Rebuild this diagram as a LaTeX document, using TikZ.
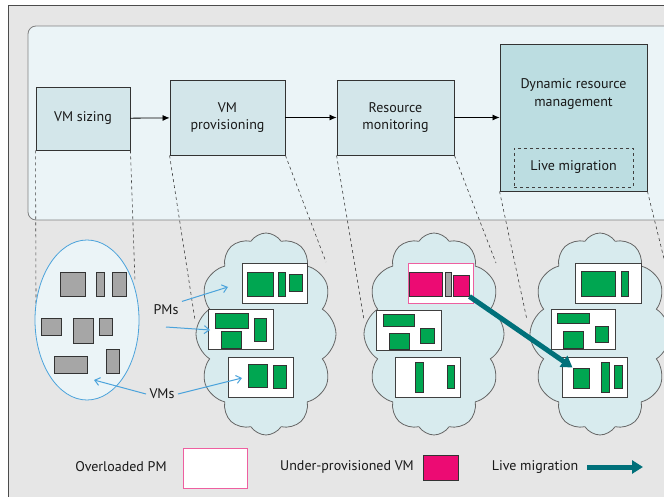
\documentclass[tikz,border=0pt]{standalone}
\usepackage{fontspec}
\setmainfont{PT Sans}
\usetikzlibrary{arrows.meta,shapes.geometric,shapes.symbols}
\definecolor{bggray}{HTML}{E6E6E6}
\definecolor{panel}{HTML}{EBF4F7}
\definecolor{boxfill}{HTML}{D3E6EA}
\definecolor{dynfill}{HTML}{BCDDE1}
\definecolor{cloudfill}{HTML}{D8EBEE}
\definecolor{vmgreen}{HTML}{00A651}
\definecolor{vmpink}{HTML}{EC0B73}
\definecolor{pinkline}{HTML}{EE5FA0}
\definecolor{migteal}{HTML}{00707A}
\definecolor{ptrblue}{HTML}{4BA3DB}
\tikzset{>=stealth}
\tikzset{
  txt/.style={font=\fontsize{14}{17.5}\selectfont, text=black!90, align=center},
  stagebox/.style={txt, draw=black!80, line width=0.9pt, fill=boxfill, inner sep=0pt},
  flow/.style={line width=0.8pt, -{Latex[length=7pt,width=6pt]}},
  guide/.style={dashed, line width=0.6pt, black!75},
  cloudpm/.style={cloud, cloud puffs=12, cloud puff arc=115, draw=black!60, line width=0.8pt, fill=cloudfill, minimum width=140pt, minimum height=202pt},
  pmbox/.style={draw=black!75, line width=1pt, fill=white, minimum width=65pt, minimum height=40pt, inner sep=0pt},
  vm/.style={draw=black!80, line width=1pt, fill=vmgreen},
  idle/.style={draw=black!80, line width=1pt, fill=black!35},
  hot/.style={draw=black!80, line width=1pt, fill=vmpink},
  pointer/.style={ptrblue, line width=1pt, -{Straight Barb[length=5pt,width=8pt]}},
  migrate/.style={migteal, line width=5pt, -{Triangle[length=11pt,width=13pt]}}
}
\begin{document}
\begin{tikzpicture}[x=1pt,y=-1pt]
  \clip (0,0) rectangle (664,497);
  % frame and top panel
  \draw[fill=bggray, draw=black!70, line width=1pt] (8,6) rectangle (700,520);
  \draw[fill=panel, draw=black!50, line width=0.8pt, rounded corners=8pt] (28,26) rectangle (700,220);

  % stages
  \node[stagebox, minimum width=94pt, minimum height=63pt] (sizing) at (83,118.5) {VM sizing};
  \node[stagebox, minimum width=115pt, minimum height=75pt] (prov) at (227.5,117.5) {VM\\provisioning};
  \node[stagebox, minimum width=117pt, minimum height=75pt] (mon) at (395.5,117.5) {Resource\\monitoring};
  \node[stagebox, fill=dynfill, minimum width=147pt, minimum height=147pt] (dyn) at (573.5,117.5) {};
  \node[txt] (dyntext) at (573.5,94) {Dynamic resource\\management};
  \node[txt, draw=black!75, dashed, line width=0.8pt, minimum width=119pt, minimum height=39pt, inner sep=0pt] (live) at (573.5,167.5) {Live migration};
  \draw[flow] (sizing) -- (prov);
  \draw[flow] (prov) -- (mon);
  \draw[flow] (mon) -- (dyn);

  % dashed guides
  \coordinate (gA) at (36,304);
  \coordinate (gB) at (135,282);
  \coordinate (gC) at (195,320);
  \coordinate (gD) at (326,262);
  \coordinate (gE) at (364,320);
  \coordinate (gF) at (496,263);
  \coordinate (gG) at (527,320);
  \coordinate (gH) at (668,275);
  \draw[guide] (sizing.south west) -- (gA);
  \draw[guide] (sizing.south east) -- (gB);
  \draw[guide] (prov.south west) -- (gC);
  \draw[guide] (prov.south east) -- (gD);
  \draw[guide] (mon.south west) -- (gE);
  \draw[guide] (mon.south east) -- (gF);
  \draw[guide] (dyn.south west) -- (gG);
  \draw[guide] (dyn.south east) -- (gH);

  % VM pool
  \node[ellipse, draw=ptrblue, line width=0.8pt, fill=panel, minimum width=104pt, minimum height=160pt] (pool) at (87,320) {};
  \draw[idle] (60,272) rectangle (85,296);
  \draw[idle] (96,272) rectangle (104,296);
  \draw[idle] (112,272) rectangle (126,296);
  \draw[idle] (41,318) rectangle (61,335);
  \draw[idle] (73,318) rectangle (93,343);
  \draw[idle] (99,318) rectangle (112,335);
  \draw[idle] (54,356) rectangle (87,373);
  \draw[idle] (106,349) rectangle (119,373);

  % clouds
  \node[cloudpm] (cloudA) at (266,334) {};
  \node[cloudpm] (cloudB) at (434,334) {};
  \node[cloudpm] (cloudC) at (600,334) {};

  % PMs after provisioning
  \node[pmbox] (pmA1) at (274.5,283) {};
  \node[pmbox] (pmA2) at (240.5,329) {};
  \node[pmbox] (pmA3) at (260.5,377) {};
  \draw[vm] (247,272) rectangle (273,296);
  \draw[vm] (278,272) rectangle (285,296);
  \draw[vm] (289,274) rectangle (302,291);
  \draw[vm] (215,313) rectangle (248,328);
  \draw[vm] (221,331) rectangle (241,348);
  \draw[vm] (254,318) rectangle (266,341);
  \draw[vm] (248,364) rectangle (267,387);
  \draw[vm] (273,365) rectangle (286,388);

  % PMs while monitoring
  \node[pmbox, draw=pinkline] (pmB1) at (440.5,283) {};
  \node[pmbox] (pmB2) at (408.5,330) {};
  \node[pmbox] (pmB3) at (427.5,377) {};
  \draw[hot] (409,272) rectangle (442,296);
  \draw[idle] (445,272) rectangle (451,296);
  \node[hot, minimum width=16pt, minimum height=21pt, inner sep=0pt] (hotvm) at (461,285.5) {};
  \draw[vm] (383,314) rectangle (414,326);
  \draw[vm] (389,333) rectangle (409,349);
  \draw[vm] (420,328) rectangle (434,343);
  \draw[vm] (415,362) rectangle (423,392);
  \draw[vm] (447,365) rectangle (454,388);

  % PMs after migration
  \node[pmbox, minimum width=66pt] (pmC1) at (608,283) {};
  \node[pmbox, minimum width=64pt] (pmC2) at (583,329) {};
  \node[pmbox] (pmC3) at (594.5,377) {};
  \draw[vm] (581,271) rectangle (615,296);
  \draw[vm] (621,271) rectangle (628,296);
  \draw[vm] (557,313) rectangle (589,323);
  \draw[vm] (563,331) rectangle (583,348);
  \draw[vm] (595,326) rectangle (608,342);
  \node[vm, minimum width=16pt, minimum height=20pt, inner sep=0pt] (newvm) at (581,378) {};
  \draw[vm] (601,362) rectangle (609,392);
  \draw[vm] (614,365) rectangle (622,388);

  \draw[migrate] (hotvm.south east) -- (newvm.north west);

  % callouts
  \node[txt] (pmslabel) at (166,310) {PMs};
  \node[txt] (vmslabel) at (162,394) {VMs};
  \coordinate (pmsfrom) at (166,327);
  \coordinate (pmtipA) at (228,287);
  \coordinate (pmtipB) at (210,330);
  \coordinate (vmtipA) at (94,380);
  \coordinate (vmtipB) at (242,378);
  \draw[pointer] (pmslabel.north east) -- (pmtipA);
  \draw[pointer] (pmsfrom) -- (pmtipB);
  \draw[pointer] (vmslabel.west) -- (vmtipA);
  \draw[pointer] (vmslabel.east) -- (vmtipB);

  % legend
  \node[txt] (keyover) at (121,467) {Overloaded PM};
  \node[draw=pinkline, line width=1pt, fill=white, minimum width=64pt, minimum height=40pt, inner sep=0pt] (keyoverbox) at (215,468) {};
  \node[txt] (keyunder) at (347,467) {Under-provisioned VM};
  \node[hot, minimum width=35pt, minimum height=25pt, inner sep=0pt] (keyunderbox) at (440.5,467.5) {};
  \node[txt] (keylive) at (535,467) {Live migration};
  \coordinate (keyfrom) at (587,467);
  \coordinate (keyto) at (643,467);
  \draw[migrate] (keyfrom) -- (keyto);
\end{tikzpicture}
\end{document}
